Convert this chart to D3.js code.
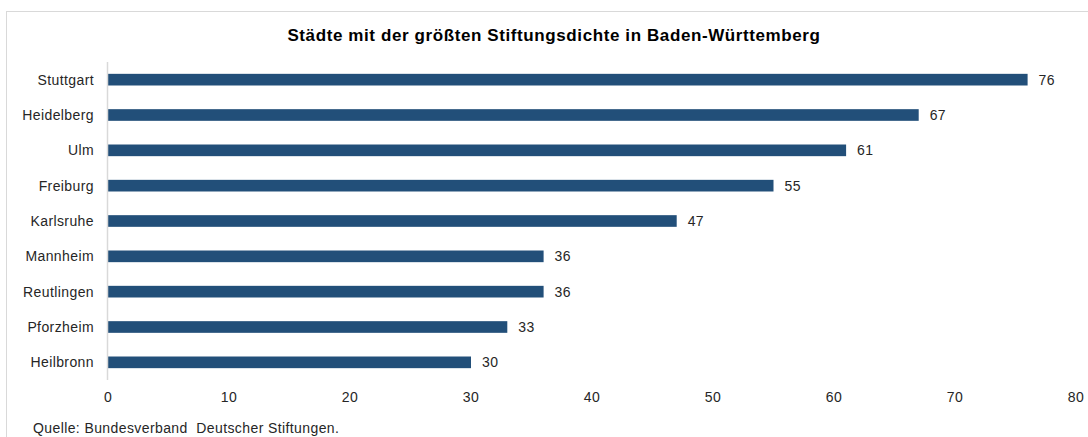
<!DOCTYPE html>
<html><head><meta charset="utf-8">
<script src="https://cdn.jsdelivr.net/npm/d3@7"></script>
<style>body{margin:0;background:#fff}svg{display:block;font-family:"Liberation Sans",Arial,sans-serif}text{white-space:pre}</style>
</head><body><svg id="c" width="1088" height="437"></svg>
<script>
const categories = ["Stuttgart","Heidelberg","Ulm","Freiburg","Karlsruhe","Mannheim","Reutlingen","Pforzheim","Heilbronn"];
const values = [76,67,61,55,47,36,36,33,30];
const xTicks = [0,10,20,30,40,50,60,70,80];
const title = "Städte mit der größten Stiftungsdichte in Baden-Württemberg";
const source = "Quelle: Bundesverband  Deutscher Stiftungen.";

const svg = d3.select("#c");
svg.append("rect").attr("x",6.5).attr("y",11.5).attr("width",1100).attr("height",440)
  .attr("fill","none").attr("stroke","#d9d9d9");
svg.append("text").attr("x",554).attr("y",41).attr("text-anchor","middle")
  .attr("font-size",17).attr("letter-spacing",0.6).attr("font-weight","bold").attr("fill","#000").text(title);

const x = d3.scaleLinear().domain([0,80]).range([108,1076]);
const y = d3.scaleBand().domain(categories).range([62,380]).paddingInner(0.67).paddingOuter(0.335);

const fs = 14, ls = 0.4, tc = "#262626";

svg.selectAll("rect.bar").data(categories).join("rect").attr("class","bar")
  .attr("x",x(0)).attr("y",d=>y(d)).attr("height",y.bandwidth())
  .attr("width",(d,i)=>x(values[i])-x(0)).attr("fill","#224F79");

svg.selectAll("text.val").data(categories).join("text").attr("class","val")
  .attr("x",(d,i)=>x(values[i])+11).attr("y",d=>y(d)+y.bandwidth()/2).attr("dy","0.35em")
  .attr("font-size",fs).attr("letter-spacing",ls).attr("fill",tc).text((d,i)=>values[i]);

svg.selectAll("text.cat").data(categories).join("text").attr("class","cat")
  .attr("x",94).attr("y",d=>y(d)+y.bandwidth()/2).attr("dy","0.35em").attr("text-anchor","end")
  .attr("font-size",fs).attr("letter-spacing",ls).attr("fill",tc).text(d=>d);

svg.append("line").attr("x1",x(0)-0.5).attr("x2",x(0)-0.5).attr("y1",62).attr("y2",380)
  .attr("stroke","#d9d9d9").attr("stroke-width",1.5);

svg.selectAll("text.tick").data(xTicks).join("text").attr("class","tick")
  .attr("x",d=>x(d)).attr("y",397).attr("dy","0.35em").attr("text-anchor","middle")
  .attr("font-size",fs).attr("letter-spacing",ls).attr("fill",tc).text(d=>d);

svg.append("text").attr("x",33).attr("y",428).attr("dy","0.35em")
  .attr("font-size",fs).attr("letter-spacing",ls).attr("fill",tc).text(source);
</script></body></html>
